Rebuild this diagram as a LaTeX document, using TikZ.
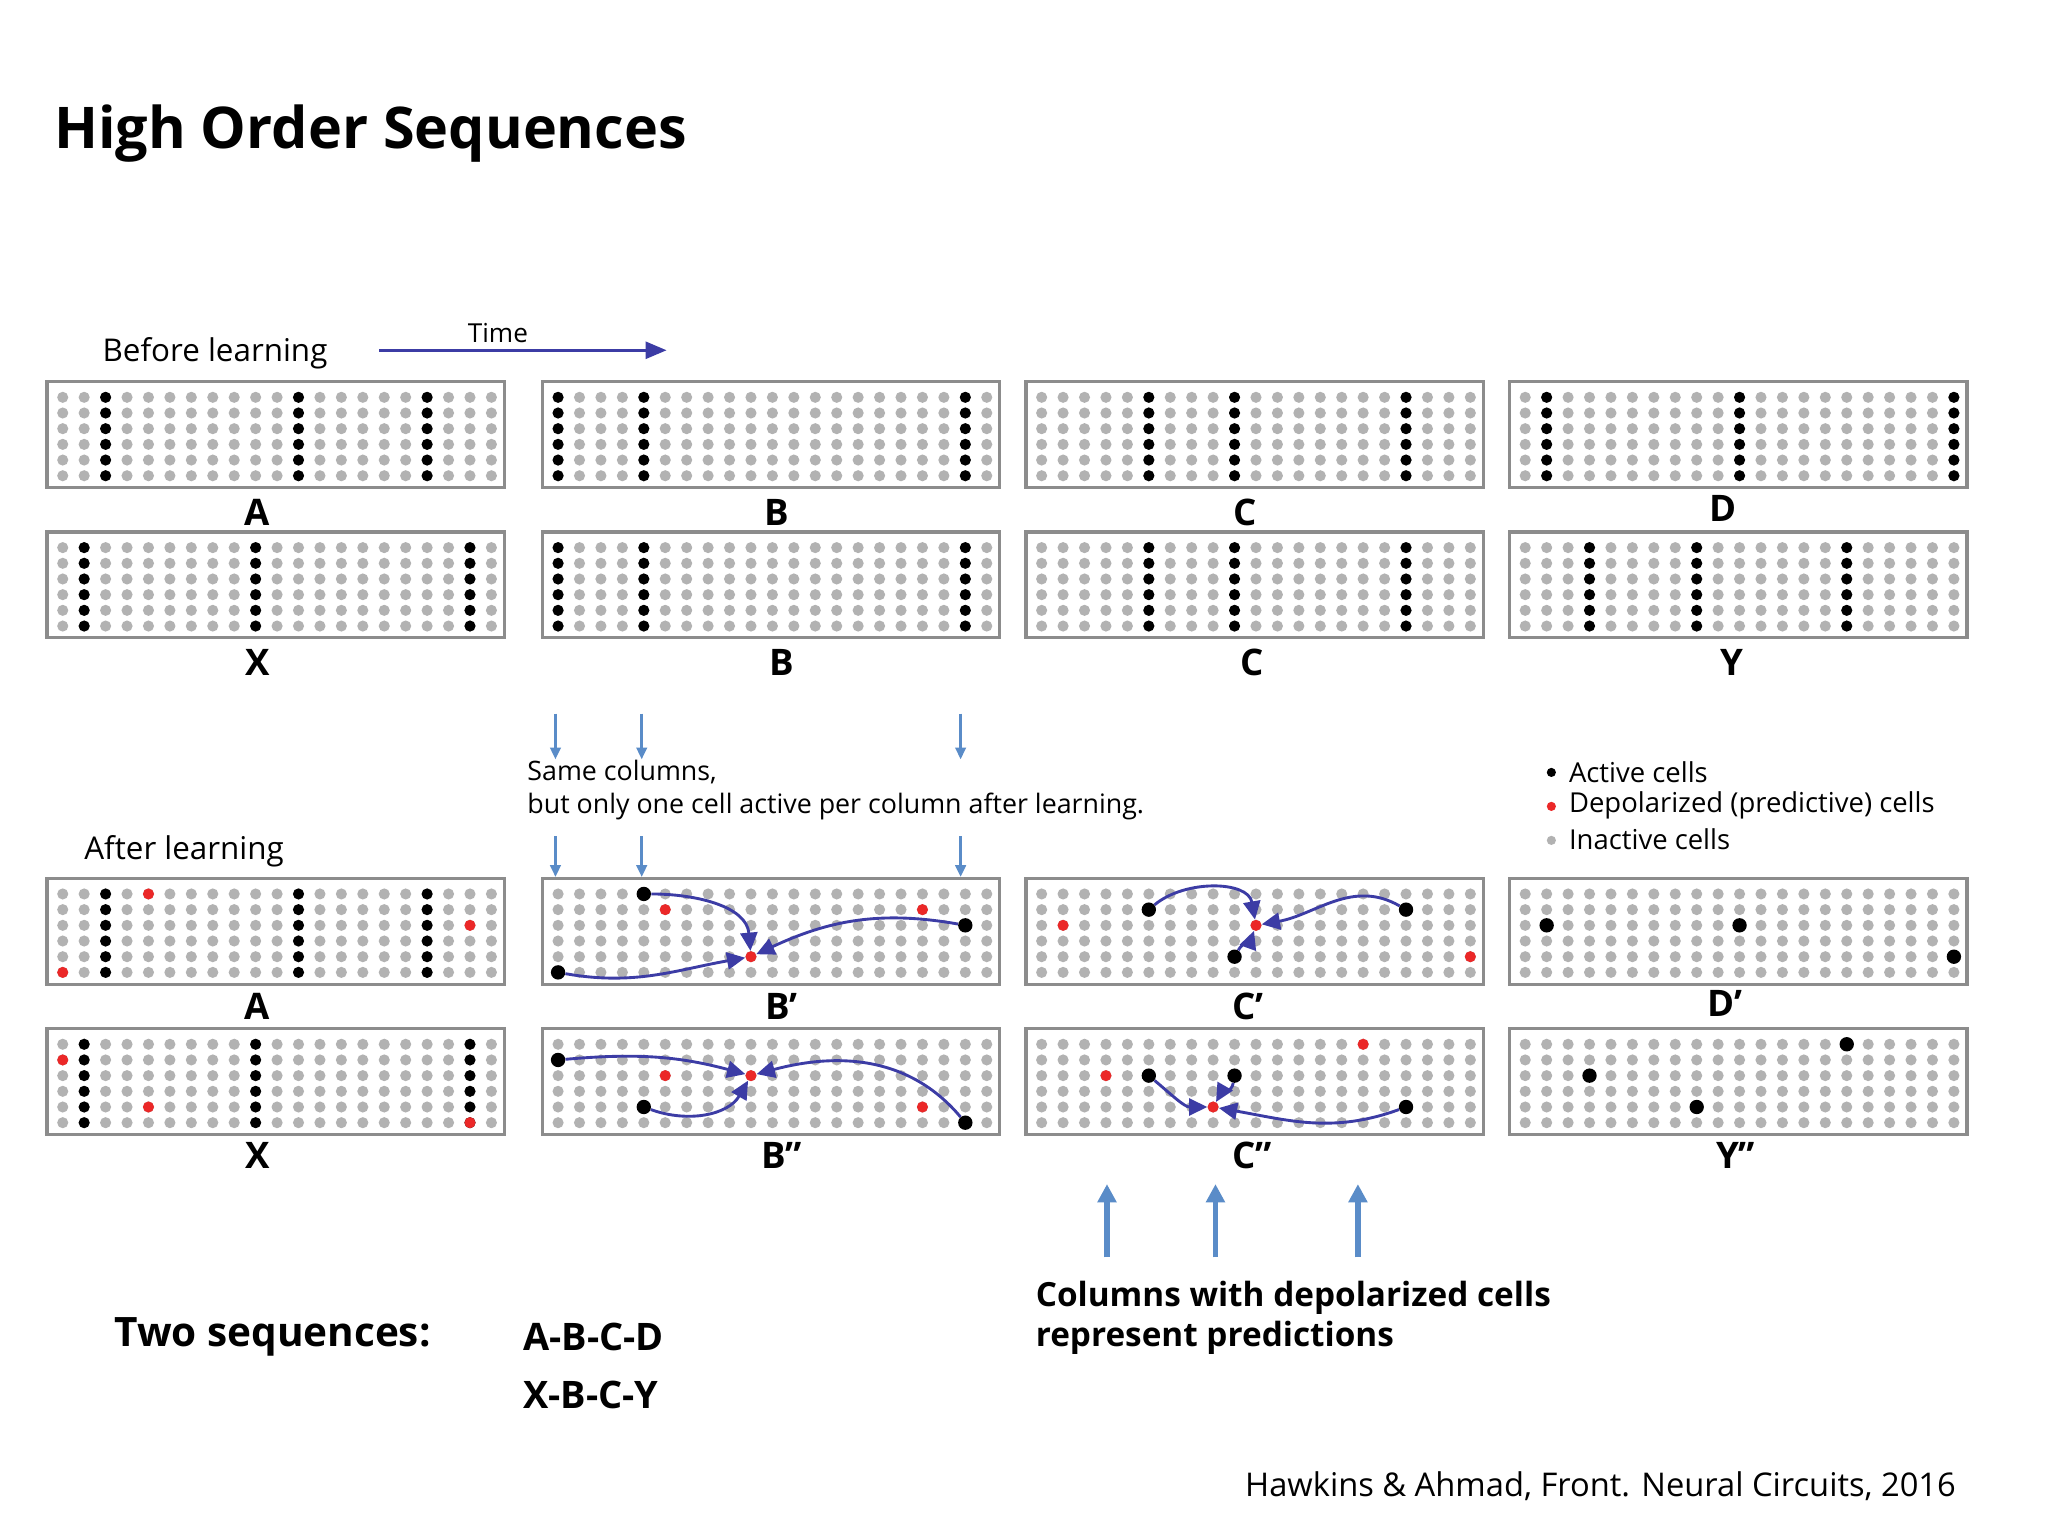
\documentclass[tikz,border=0pt]{standalone}
\usepackage{fontspec}
\setmainfont{Open Sans}
\usetikzlibrary{arrows.meta}
\definecolor{navy}{RGB}{60,60,165}
\definecolor{skyarr}{RGB}{90,140,200}
\definecolor{dotgray}{RGB}{178,178,178}
\definecolor{dotred}{RGB}{235,40,40}
\tikzset{
  panel/.style={draw=black!45, line width=2.5pt},
  inact/.style={circle, fill=dotgray, inner sep=0pt, minimum size=8.5pt},
  act/.style={circle, fill=black, inner sep=0pt, minimum size=8.5pt},
  actbig/.style={circle, fill=black, inner sep=0pt, minimum size=11pt},
  pred/.style={circle, fill=dotred, inner sep=0pt, minimum size=8.5pt},
  syn/.style={navy, line width=2.2pt, -{Triangle[length=14pt,width=13pt]}, shorten >=0pt},
  lbl/.style={font=\fontsize{28}{30}\selectfont\bfseries},
  txt/.style={font=\fontsize{20.5}{24}\selectfont, anchor=west},
  down/.style={skyarr, line width=2pt, -{Triangle[length=9pt,width=8pt]}},
  up/.style={skyarr, line width=4pt, -{Triangle[length=14pt,width=14pt]}},
}
% cell position inside panel (x,y top-left), column, row
\newcommand\cellat[4]{({#1+12+#3*16.4},{#2+12+#4*12})}
% empty panel with inactive cells
\newcommand\cellpanel[2]{
  \draw[panel] (#1,#2) rectangle ({#1+350},{#2+81});
  \foreach \c in {0,...,20}
    \foreach \r in {0,...,5}
      \node[inact] at \cellat{#1}{#2}{\c}{\r} {};
}
% column with all cells active
\newcommand\actcol[3]{
  \foreach \r in {0,...,5}
    \node[act] at \cellat{#1}{#2}{#3}{\r} {};
}
\begin{document}
\begin{tikzpicture}[x=1pt,y=-1pt]
  \useasboundingbox (0,0) rectangle (1567,1175);
  \fill[white] (0,0) rectangle (1567,1175);

  % title and headings
  \node[anchor=west, font=\fontsize{44}{48}\selectfont\bfseries] (title) at (38,102) {High Order Sequences};
  \node[txt, font=\fontsize{24}{28}\selectfont] (before) at (75,270) {Before learning};
  \node[txt, font=\fontsize{24}{28}\selectfont] (after) at (61,651) {After learning};
  \coordinate (t0) at (290,268);
  \coordinate (t1) at (510,268);
  \draw[navy, line width=2pt, -{Triangle[length=16pt,width=13pt]}] (t0) -- (t1);
  \node[font=\fontsize{20}{22}\selectfont] (time) at (381,255) {Time};

  % before learning
  \cellpanel{36}{292}   \actcol{36}{292}{2}   \actcol{36}{292}{11}  \actcol{36}{292}{17}
  \cellpanel{415}{292}  \actcol{415}{292}{0}  \actcol{415}{292}{4}  \actcol{415}{292}{19}
  \cellpanel{785}{292}  \actcol{785}{292}{5}  \actcol{785}{292}{9}  \actcol{785}{292}{17}
  \cellpanel{1155}{292} \actcol{1155}{292}{1} \actcol{1155}{292}{10} \actcol{1155}{292}{20}
  \cellpanel{36}{407}   \actcol{36}{407}{1}   \actcol{36}{407}{9}   \actcol{36}{407}{19}
  \cellpanel{415}{407}  \actcol{415}{407}{0}  \actcol{415}{407}{4}  \actcol{415}{407}{19}
  \cellpanel{785}{407}  \actcol{785}{407}{5}  \actcol{785}{407}{9}  \actcol{785}{407}{17}
  \cellpanel{1155}{407} \actcol{1155}{407}{3} \actcol{1155}{407}{8} \actcol{1155}{407}{15}

  \node[lbl] (lA) at (197,392) {A};
  \node[lbl] (lB) at (594,392) {B};
  \node[lbl] (lC) at (953,392) {C};
  \node[lbl] (lD) at (1318,389) {D};
  \node[lbl] (lX) at (197,507) {X};
  \node[lbl] (lB2) at (598,507) {B};
  \node[lbl] (lC2) at (958,507) {C};
  \node[lbl] (lY) at (1325,507) {Y};

  % same columns
  \foreach \x [count=\i] in {425,491,735} {
    \coordinate (da\i) at (\x,546);  \coordinate (db\i) at (\x,581);
    \coordinate (dc\i) at (\x,640);  \coordinate (dd\i) at (\x,671);
    \draw[down] (da\i) -- (db\i);
    \draw[down] (dc\i) -- (dd\i);
  }
  \node[txt] (same1) at (400,591) {Same columns,};
  \node[txt] (same2) at (400,617) {but only one cell active per column after learning.};

  % legend
  \node[circle, fill=black, inner sep=0pt, minimum size=7pt] (k1) at (1187,591) {};
  \node[circle, fill=dotred, inner sep=0pt, minimum size=7pt] (k2) at (1187,617) {};
  \node[circle, fill=dotgray, inner sep=0pt, minimum size=7pt] (k3) at (1187,643) {};
  \node[txt, font=\fontsize{21}{24}\selectfont] at (1197,591) {Active cells};
  \node[txt, font=\fontsize{21}{24}\selectfont] at (1197,616) {Depolarized (predictive) cells};
  \node[txt, font=\fontsize{21}{24}\selectfont] at (1197,642) {Inactive cells};

  % after learning: A and X
  \cellpanel{36}{672} \actcol{36}{672}{2} \actcol{36}{672}{11} \actcol{36}{672}{17}
  \node[pred] at \cellat{36}{672}{4}{0} {};
  \node[pred] at \cellat{36}{672}{19}{2} {};
  \node[pred] at \cellat{36}{672}{0}{5} {};
  \cellpanel{36}{787} \actcol{36}{787}{1} \actcol{36}{787}{9} \actcol{36}{787}{19}
  \node[pred] at \cellat{36}{787}{0}{1} {};
  \node[pred] at \cellat{36}{787}{4}{4} {};
  \node[pred] at \cellat{36}{787}{19}{5} {};

  % B'
  \cellpanel{415}{672}
  \node[actbig] (b1a) at \cellat{415}{672}{4}{0} {};
  \node[actbig] (b1b) at \cellat{415}{672}{0}{5} {};
  \node[actbig] (b1c) at \cellat{415}{672}{19}{2} {};
  \node[pred] at \cellat{415}{672}{5}{1} {};
  \node[pred] at \cellat{415}{672}{17}{1} {};
  \node[pred] (b1t) at \cellat{415}{672}{9}{4} {};
  \draw[syn] (b1a) to[out=0,in=95] (b1t);
  \draw[syn] (b1b) to[out=-10,in=190] (b1t);
  \draw[syn] (b1c) to[out=170,in=25] (b1t);

  % B''
  \cellpanel{415}{787}
  \node[actbig] (b2a) at \cellat{415}{787}{0}{1} {};
  \node[actbig] (b2b) at \cellat{415}{787}{4}{4} {};
  \node[actbig] (b2c) at \cellat{415}{787}{19}{5} {};
  \node[pred] at \cellat{415}{787}{5}{2} {};
  \node[pred] at \cellat{415}{787}{17}{4} {};
  \node[pred] (b2t) at \cellat{415}{787}{9}{2} {};
  \draw[syn] (b2a) to[out=5,in=165] (b2t);
  \draw[syn] (b2b) to[out=-20,in=-120] (b2t);
  \draw[syn] (b2c) to[out=130,in=15] (b2t);

  % C'
  \cellpanel{785}{672}
  \node[actbig] (c1a) at \cellat{785}{672}{5}{1} {};
  \node[actbig] (c1b) at \cellat{785}{672}{9}{4} {};
  \node[actbig] (c1c) at \cellat{785}{672}{17}{1} {};
  \node[pred] at \cellat{785}{672}{1}{2} {};
  \node[pred] at \cellat{785}{672}{20}{4} {};
  \node[pred] (c1t) at \cellat{785}{672}{10}{2} {};
  \draw[syn] (c1a) to[out=40,in=100] (c1t);
  \draw[syn] (c1b) to[out=60,in=-110] (c1t);
  \draw[syn] (c1c) to[out=150,in=10] (c1t);

  % C''
  \cellpanel{785}{787}
  \node[actbig] (c2a) at \cellat{785}{787}{5}{2} {};
  \node[actbig] (c2b) at \cellat{785}{787}{9}{2} {};
  \node[actbig] (c2c) at \cellat{785}{787}{17}{4} {};
  \node[pred] at \cellat{785}{787}{3}{2} {};
  \node[pred] at \cellat{785}{787}{15}{0} {};
  \node[pred] (c2t) at \cellat{785}{787}{8}{4} {};
  \draw[syn] (c2a) to[out=-40,in=180] (c2t);
  \draw[syn] (c2b) to[out=-100,in=60] (c2t);
  \draw[syn] (c2c) to[out=-160,in=-10] (c2t);

  % D' and Y''
  \cellpanel{1155}{672}
  \node[actbig] at \cellat{1155}{672}{1}{2} {};
  \node[actbig] at \cellat{1155}{672}{10}{2} {};
  \node[actbig] at \cellat{1155}{672}{20}{4} {};
  \cellpanel{1155}{787}
  \node[actbig] at \cellat{1155}{787}{3}{2} {};
  \node[actbig] at \cellat{1155}{787}{8}{4} {};
  \node[actbig] at \cellat{1155}{787}{15}{0} {};

  \node[lbl] (lA3) at (197,770) {A};
  \node[lbl] (lB3) at (598,770) {B’};
  \node[lbl] (lC3) at (955,770) {C’};
  \node[lbl] (lD3) at (1320,768) {D’};
  \node[lbl] (lX4) at (197,884) {X};
  \node[lbl] (lB4) at (598,884) {B”};
  \node[lbl] (lC4) at (958,884) {C”};
  \node[lbl] (lY4) at (1328,884) {Y”};

  % predictions
  \foreach \x [count=\i] in {847,930,1039} {
    \coordinate (ua\i) at (\x,962);  \coordinate (ub\i) at (\x,906);
    \draw[up] (ua\i) -- (ub\i);
  }
  \node[txt, font=\fontsize{25.5}{28}\selectfont\bfseries] (pred1) at (789,993) {Columns with depolarized cells};
  \node[txt, font=\fontsize{25.5}{28}\selectfont\bfseries] (pred2) at (789,1024) {represent predictions};

  \node[txt, font=\fontsize{31}{32}\selectfont\bfseries] (two) at (84,1023) {Two sequences:};
  \node[txt, font=\fontsize{29}{30}\selectfont\bfseries] (seq1) at (397,1023) {A-B-C-D};
  \node[txt, font=\fontsize{29}{30}\selectfont\bfseries] (seq2) at (397,1067) {X-B-C-Y};

  \node[anchor=east, font=\fontsize{25}{28}\selectfont] (cite) at (1500,1137) {Hawkins \& Ahmad, Front. Neural Circuits, 2016};
\end{tikzpicture}
\end{document}
